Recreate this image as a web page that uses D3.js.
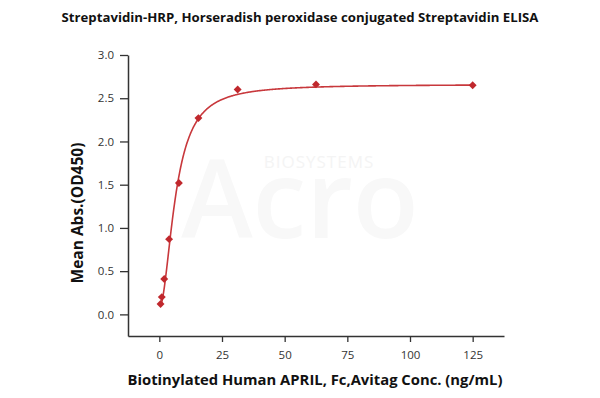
<!DOCTYPE html>
<html>
<head>
<meta charset="utf-8">
<script src="https://cdn.jsdelivr.net/npm/d3@7"></script>
<style>
  body { margin: 0; background: #fff; }
  text { font-family: "Open Sans", sans-serif; }
</style>
</head>
<body>
<div id="chart"></div>
<script>
// data
var conc = [0.49, 0.98, 1.95, 3.9, 7.8, 15.6, 31.25, 62.5, 125];
var od450 = [0.12, 0.20, 0.41, 0.87, 1.52, 2.27, 2.60, 2.66, 2.65];
var xTicks = [0, 25, 50, 75, 100, 125];
var yTicks = [0.0, 0.5, 1.0, 1.5, 2.0, 2.5, 3.0];
// 4PL fit (bottom, top, ec50, hill)
var fitBottom = 0.08, fitTop = 2.66, fitEC50 = 6.5, fitHill = 1.95;

var width = 600, height = 398;
var margin = {top: 55, right: 96, bottom: 60, left: 128};

var svg = d3.select("#chart")
  .append("svg")
    .attr("width", width)
    .attr("height", height);

var x = d3.scaleLinear().domain([-12.5, 137.5]).range([margin.left, width - margin.right]);
var y = d3.scaleLinear().domain([-0.25, 3.0]).range([height - margin.bottom - 2, margin.top]);

var axisColor = "#333";

// watermark
svg.append("text")
  .attr("x", 319).attr("y", 168)
  .attr("text-anchor", "middle")
  .attr("font-size", 17)
  .attr("letter-spacing", 1)
  .attr("fill", "#f4f4f4")
  .text("BIOSYSTEMS");
svg.append("text")
  .attr("x", 300).attr("y", 238)
  .attr("text-anchor", "middle")
  .attr("font-size", 108)
  .attr("font-weight", 600)
  .attr("fill", "#f8f8f8")
  .text("Acro");

// title
svg.append("text")
  .attr("x", 300).attr("y", 22)
  .attr("text-anchor", "middle")
  .attr("font-size", 13.2)
  .attr("font-weight", "bold")
  .attr("fill", "#111")
  .text("Streptavidin-HRP, Horseradish peroxidase conjugated Streptavidin ELISA");

// x axis
var xAxisG = svg.append("g")
  .attr("transform", "translate(0," + y(-0.25) + ")");
xAxisG.call(d3.axisBottom(x).tickValues(d3.range(-12.5, 137.6, 12.5)).tickFormat("").tickSize(4).tickSizeOuter(0));
xAxisG.call(d3.axisBottom(x).tickValues(xTicks).tickSize(6).tickSizeOuter(0).tickPadding(9));

// y axis
var yAxisG = svg.append("g")
  .attr("transform", "translate(" + x(-12.5) + ",0)");
yAxisG.call(d3.axisLeft(y).tickValues(d3.range(-0.25, 3.01, 0.25)).tickFormat("").tickSize(5).tickSizeOuter(0));
yAxisG.call(d3.axisLeft(y).tickValues(yTicks).tickFormat(d3.format(".1f")).tickSize(8).tickSizeOuter(0).tickPadding(6));

svg.selectAll(".domain").attr("stroke", axisColor).attr("stroke-width", 1.5);
svg.selectAll(".tick line").attr("stroke", axisColor).attr("stroke-width", 1.3);
svg.selectAll(".tick text").attr("font-size", 11.5).attr("fill", "#333").attr("font-family", "Open Sans, sans-serif");

// axis titles
svg.append("text")
  .attr("x", 315).attr("y", 385)
  .attr("text-anchor", "middle")
  .attr("font-size", 14.8)
  .attr("font-weight", "bold")
  .attr("fill", "#111")
  .text("Biotinylated Human APRIL, Fc,Avitag Conc. (ng/mL)");
svg.append("text")
  .attr("transform", "translate(83,213) rotate(-90)")
  .attr("text-anchor", "middle")
  .attr("font-size", 15.5)
  .attr("font-weight", "bold")
  .attr("fill", "#111")
  .text("Mean Abs.(OD450)");

// fitted curve
function fit(c) {
  return fitTop + (fitBottom - fitTop) / (1 + Math.pow(c / fitEC50, fitHill));
}
var curveX = d3.range(0.49, 125.01, 0.25);
svg.append("path")
  .datum(curveX)
  .attr("fill", "none")
  .attr("stroke", "#c8383c")
  .attr("stroke-width", 1.6)
  .attr("d", d3.line()
    .x(function (d) { return x(d); })
    .y(function (d) { return y(fit(d)); }));

// points
svg.selectAll(".pt")
  .data(conc)
  .enter()
  .append("path")
    .attr("class", "pt")
    .attr("transform", function (d, i) { return "translate(" + x(d) + "," + y(od450[i]) + ")"; })
    .attr("d", d3.symbol().type(d3.symbolDiamond2).size(40))
    .attr("fill", "#c0282d");
</script>
</body>
</html>
